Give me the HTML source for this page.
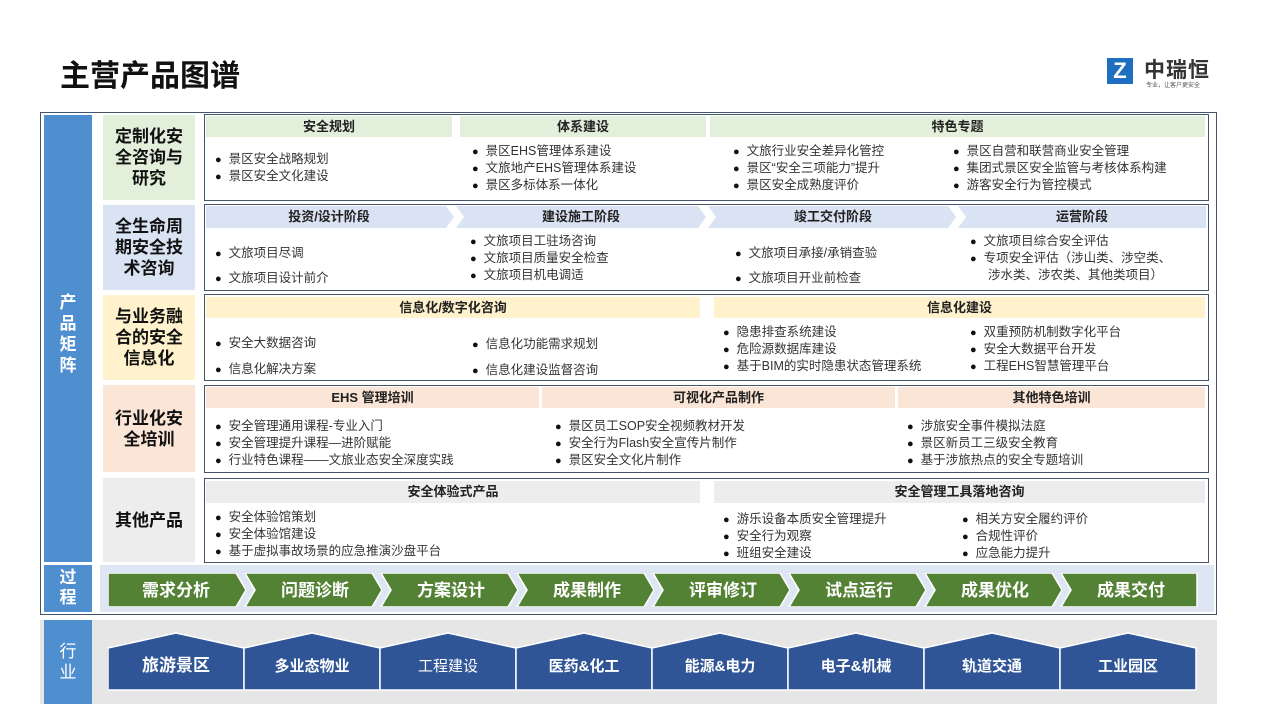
<!DOCTYPE html>
<html><head><meta charset="utf-8"><style>
*{margin:0;padding:0;box-sizing:border-box}
body{width:1267px;height:713px;background:#fff;position:relative;overflow:hidden;font-family:"Liberation Sans","Noto Sans CJK SC",sans-serif;color:#222}
.a{position:absolute}
.cat{position:absolute;left:103px;width:92px;display:flex;align-items:center;justify-content:center;text-align:center;font-weight:bold;font-size:17px;line-height:21px;color:#111}
.box{position:absolute;left:204px;width:1005px;border:1.5px solid #44546a;background:#fff}
.hd{position:absolute;height:21px;line-height:21px;text-align:center;font-weight:bold;font-size:13px;color:#222}
.it{position:absolute;font-size:12.5px;line-height:16px;white-space:nowrap;color:#333}
.it div:before{content:"●";font-size:11px;margin-right:7px;color:#111}
.it div.n:before{content:"";margin-right:18px}
</style></head><body>
<div class="a" style="left:60px;top:51px;font-size:30px;font-weight:bold;color:#111">主营产品图谱</div>
<div class="a" style="left:1107px;top:58px;width:26px;height:26px;background:#1f6fc0;color:#fff;font-weight:bold;font-size:22px;line-height:26px;text-align:center">Z</div>
<div class="a" style="left:1144px;top:54px;font-size:21px;font-weight:bold;color:#333;letter-spacing:1px">中瑞恒</div>
<div class="a" style="left:1146px;top:80px;font-size:6px;color:#555">专业，让客户更安全</div>

<div class="a" style="left:40px;top:112px;width:1177px;height:503px;border:1.5px solid #44546a"></div>
<div class="a" style="left:44px;top:115px;width:48px;height:447px;background:#4f8fd0"></div>
<div class="a" style="left:44px;top:292px;width:48px;text-align:center;color:#fff;font-weight:bold;font-size:17px;line-height:21px">产<br>品<br>矩<br>阵</div>
<div class="a" style="left:44px;top:565px;width:48px;height:47px;background:#4f8fd0;color:#fff;font-weight:bold;font-size:17px;line-height:20px;text-align:center;padding-top:3px">过<br>程</div>
<div class="a" style="left:100px;top:565px;width:1114px;height:47px;background:#dde6f2"></div>

<div class="cat" style="top:115px;height:85px;background:#e2efda">定制化安<br>全咨询与<br>研究</div>
<div class="cat" style="top:205px;height:85px;background:#dae3f3">全生命周<br>期安全技<br>术咨询</div>
<div class="cat" style="top:295px;height:85px;background:#fff2cc">与业务融<br>合的安全<br>信息化</div>
<div class="cat" style="top:385px;height:87px;background:#fbe5d6">行业化安<br>全培训</div>
<div class="cat" style="top:478px;height:84px;background:#ededed">其他产品</div>

<!-- Row1 -->
<div class="box" style="top:114px;height:87px"></div>
<div class="hd" style="left:206px;top:116px;width:246px;background:#e2efda">安全规划</div>
<div class="hd" style="left:460px;top:116px;width:246px;background:#e2efda">体系建设</div>
<div class="hd" style="left:710px;top:116px;width:495px;background:#e2efda">特色专题</div>
<div class="it" style="left:215px;top:151px"><div>景区安全战略规划</div><div>景区安全文化建设</div></div>
<div class="it" style="left:472px;top:143px"><div>景区EHS管理体系建设</div><div>文旅地产EHS管理体系建设</div><div>景区多标体系一体化</div></div>
<div class="it" style="left:733px;top:143px"><div>文旅行业安全差异化管控</div><div>景区“安全三项能力”提升</div><div>景区安全成熟度评价</div></div>
<div class="it" style="left:953px;top:143px"><div>景区自营和联营商业安全管理</div><div>集团式景区安全监管与考核体系构建</div><div>游客安全行为管控模式</div></div>

<!-- Row2 -->
<div class="box" style="top:204px;height:87px"></div>
<svg class="a" style="left:206px;top:206px" width="1000" height="22">
<polygon points="0,0 240,0 248,11 240,22 0,22" fill="#dae3f3"/>
<polygon points="250,0 492,0 500,11 492,22 250,22 258,11" fill="#dae3f3"/>
<polygon points="502,0 742,0 750,11 742,22 502,22 510,11" fill="#dae3f3"/>
<polygon points="752,0 1000,0 1000,22 752,22 760,11" fill="#dae3f3"/>
</svg>
<div class="hd" style="left:206px;top:206px;width:246px">投资/设计阶段</div>
<div class="hd" style="left:456px;top:206px;width:250px">建设施工阶段</div>
<div class="hd" style="left:708px;top:206px;width:250px">竣工交付阶段</div>
<div class="hd" style="left:958px;top:206px;width:248px">运营阶段</div>
<div class="it" style="left:215px;top:241px;line-height:24px"><div>文旅项目尽调</div><div>文旅项目设计前介</div></div>
<div class="it" style="left:470px;top:233px"><div>文旅项目工驻场咨询</div><div>文旅项目质量安全检查</div><div>文旅项目机电调适</div></div>
<div class="it" style="left:735px;top:241px;line-height:24px"><div>文旅项目承接/承销查验</div><div>文旅项目开业前检查</div></div>
<div class="it" style="left:970px;top:233px"><div>文旅项目综合安全评估</div><div>专项安全评估（涉山类、涉空类、</div><div class="n">涉水类、涉农类、其他类项目）</div></div>

<!-- Row3 -->
<div class="box" style="top:294px;height:87px"></div>
<div class="hd" style="left:206px;top:297px;width:494px;background:#fff2cc">信息化/数字化咨询</div>
<div class="hd" style="left:714px;top:297px;width:491px;background:#fff2cc">信息化建设</div>
<div class="it" style="left:215px;top:331px;line-height:25px"><div>安全大数据咨询</div><div>信息化解决方案</div></div>
<div class="it" style="left:472px;top:332px;line-height:25px"><div>信息化功能需求规划</div><div>信息化建设监督咨询</div></div>
<div class="it" style="left:723px;top:324px"><div>隐患排查系统建设</div><div>危险源数据库建设</div><div>基于BIM的实时隐患状态管理系统</div></div>
<div class="it" style="left:970px;top:324px"><div>双重预防机制数字化平台</div><div>安全大数据平台开发</div><div>工程EHS智慧管理平台</div></div>

<!-- Row4 -->
<div class="box" style="top:385px;height:88px"></div>
<div class="hd" style="left:206px;top:387px;width:333px;background:#fbe5d6">EHS 管理培训</div>
<div class="hd" style="left:542px;top:387px;width:353px;background:#fbe5d6">可视化产品制作</div>
<div class="hd" style="left:898px;top:387px;width:307px;background:#fbe5d6">其他特色培训</div>
<div class="it" style="left:215px;top:418px"><div>安全管理通用课程-专业入门</div><div>安全管理提升课程—进阶赋能</div><div>行业特色课程——文旅业态安全深度实践</div></div>
<div class="it" style="left:555px;top:418px"><div>景区员工SOP安全视频教材开发</div><div>安全行为Flash安全宣传片制作</div><div>景区安全文化片制作</div></div>
<div class="it" style="left:907px;top:418px"><div>涉旅安全事件模拟法庭</div><div>景区新员工三级安全教育</div><div>基于涉旅热点的安全专题培训</div></div>

<!-- Row5 -->
<div class="box" style="top:478px;height:85px"></div>
<div class="hd" style="left:206px;top:481px;width:494px;background:#ededed;height:22px">安全体验式产品</div>
<div class="hd" style="left:714px;top:481px;width:491px;background:#ededed;height:22px">安全管理工具落地咨询</div>
<div class="it" style="left:215px;top:509px"><div>安全体验馆策划</div><div>安全体验馆建设</div><div>基于虚拟事故场景的应急推演沙盘平台</div></div>
<div class="it" style="left:723px;top:511px"><div>游乐设备本质安全管理提升</div><div>安全行为观察</div><div>班组安全建设</div></div>
<div class="it" style="left:962px;top:511px"><div>相关方安全履约评价</div><div>合规性评价</div><div>应急能力提升</div></div>

<!-- Process chevrons -->
<svg class="a" style="left:108px;top:573px" width="1090" height="34">
<g fill="#548235" stroke="#fff" stroke-width="1.5">
<polygon points="0,0 128,0 138,17 128,34 0,34"/>
<polygon points="137,0 264,0 274,17 264,34 137,34 147,17"/>
<polygon points="273,0 400,0 410,17 400,34 273,34 283,17"/>
<polygon points="409,0 536,0 546,17 536,34 409,34 419,17"/>
<polygon points="545,0 672,0 682,17 672,34 545,34 555,17"/>
<polygon points="681,0 808,0 818,17 808,34 681,34 691,17"/>
<polygon points="817,0 944,0 954,17 944,34 817,34 827,17"/>
<polygon points="953,0 1089,0 1089,34 953,34 963,17"/>
</g>
<g fill="#fff" font-weight="bold" font-size="17" text-anchor="middle" font-family="Liberation Sans,Noto Sans CJK SC,sans-serif">
<text x="68" y="23">需求分析</text><text x="207" y="23">问题诊断</text><text x="343" y="23">方案设计</text><text x="479" y="23">成果制作</text>
<text x="615" y="23">评审修订</text><text x="751" y="23">试点运行</text><text x="887" y="23">成果优化</text><text x="1023" y="23">成果交付</text>
</g></svg>

<!-- Industry -->
<div class="a" style="left:40px;top:620px;width:1177px;height:84px;background:#e7e6e6"></div>
<div class="a" style="left:44px;top:620px;width:48px;height:84px;background:#4f8fd0;color:#fff;font-size:17px;line-height:21px;text-align:center;padding-top:21px">行<br>业</div>
<svg class="a" style="left:108px;top:632px" width="1090" height="60">
<g fill="#2f5597" stroke="#fff" stroke-width="1.5">
<polygon points="0,16 68,1 136,16 136,58 0,58"/>
<polygon points="136,16 204,1 272,16 272,58 136,58"/>
<polygon points="272,16 340,1 408,16 408,58 272,58"/>
<polygon points="408,16 476,1 544,16 544,58 408,58"/>
<polygon points="544,16 612,1 680,16 680,58 544,58"/>
<polygon points="680,16 748,1 816,16 816,58 680,58"/>
<polygon points="816,16 884,1 952,16 952,58 816,58"/>
<polygon points="952,16 1020,1 1088,16 1088,58 952,58"/>
</g>
<g fill="#fff" font-size="15" text-anchor="middle" font-family="Liberation Sans,Noto Sans CJK SC,sans-serif">
<text x="68" y="39" font-weight="bold" font-size="17">旅游景区</text><text x="204" y="39" font-weight="bold">多业态物业</text><text x="340" y="39">工程建设</text><text x="476" y="39" font-weight="bold">医药&amp;化工</text>
<text x="612" y="39" font-weight="bold">能源&amp;电力</text><text x="748" y="39" font-weight="bold">电子&amp;机械</text><text x="884" y="39" font-weight="bold">轨道交通</text><text x="1020" y="39" font-weight="bold">工业园区</text>
</g></svg>
</body></html>
